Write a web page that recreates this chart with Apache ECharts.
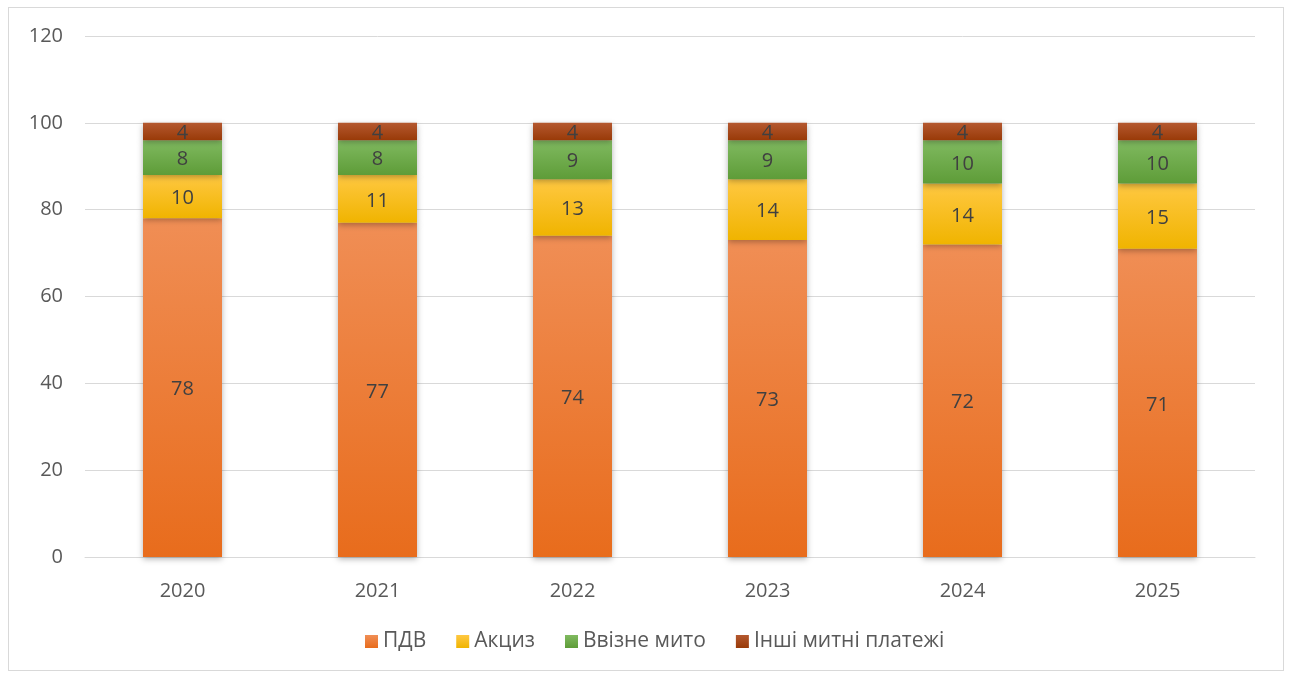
<!DOCTYPE html>
<html>
<head>
<meta charset="utf-8">
<script src="https://cdn.jsdelivr.net/npm/echarts@6/dist/echarts.min.js"></script>
<style>
  html, body { margin: 0; padding: 0; background: #fff; }
  .frame {
    position: absolute; left: 8px; top: 7px; width: 1276px; height: 664px;
    border: 1px solid #d9d9d9; box-sizing: border-box;
  }
  #chart { position: absolute; left: 0; top: 0; width: 1291px; height: 677px; }
</style>
</head>
<body>
<div class="frame"></div>
<div id="chart"></div>
<script>
const years = ["2020", "2021", "2022", "2023", "2024", "2025"];
const pdv = [78, 77, 74, 73, 72, 71];
const akcyz = [10, 11, 13, 14, 14, 15];
const vvizne = [8, 8, 9, 9, 10, 10];
const inshi = [4, 4, 4, 4, 4, 4];
const yTicks = [0, 20, 40, 60, 80, 100, 120];

const font = "'Open Sans', 'Noto Sans', sans-serif";

function grad(top, bottom) {
  return new echarts.graphic.LinearGradient(0, 0, 0, 1, [
    { offset: 0, color: top },
    { offset: 1, color: bottom },
  ]);
}

function makeSeries(name, data, top, bottom) {
  return {
    name: name,
    type: "bar",
    stack: "total",
    barWidth: 79,
    data: data,
    itemStyle: {
      color: grad(top, bottom),
      shadowColor: "rgba(0,0,0,0.3)",
      shadowBlur: 6,
      shadowOffsetX: 0,
      shadowOffsetY: 2,
    },
    label: {
      show: true,
      position: "inside",
      offset: [0, 2],
      color: "#404040",
      fontSize: 20,
      fontFamily: font,
    },
  };
}

const chart = echarts.init(document.getElementById("chart"));
chart.setOption({
  animation: false,
  grid: { left: 85, right: 36, top: 36, bottom: 120, containLabel: false },
  legend: {
    bottom: 20,
    left: 360,
    itemWidth: 13,
    itemHeight: 13,
    itemGap: 30,
    textStyle: { color: "#595959", fontSize: 21, fontFamily: font },
    data: [
      { name: "ПДВ", icon: "rect" },
      { name: "Акциз", icon: "rect" },
      { name: "Ввізне мито", icon: "rect" },
      { name: "Інші митні платежі", icon: "rect" },
    ],
  },
  xAxis: {
    type: "category",
    data: years,
    axisLine: { show: true, lineStyle: { color: "#d9d9d9", width: 1 } },
    axisTick: { show: false },
    axisLabel: { color: "#595959", fontSize: 20, fontFamily: font, margin: 24 },
  },
  yAxis: {
    type: "value",
    min: yTicks[0],
    max: yTicks[yTicks.length - 1],
    interval: 20,
    axisLine: { show: false },
    axisTick: { show: false },
    splitLine: { lineStyle: { color: "#d9d9d9", width: 1 } },
    axisLabel: { color: "#595959", fontSize: 20, fontFamily: font, margin: 22 },
  },
  series: [
    makeSeries("ПДВ", pdv, "#F08E55", "#E86C1C"),
    makeSeries("Акциз", akcyz, "#FFC842", "#F0B400"),
    makeSeries("Ввізне мито", vvizne, "#80BA60", "#5E9C38"),
    makeSeries("Інші митні платежі", inshi, "#B4582F", "#993A08"),
  ],
});
</script>
</body>
</html>
